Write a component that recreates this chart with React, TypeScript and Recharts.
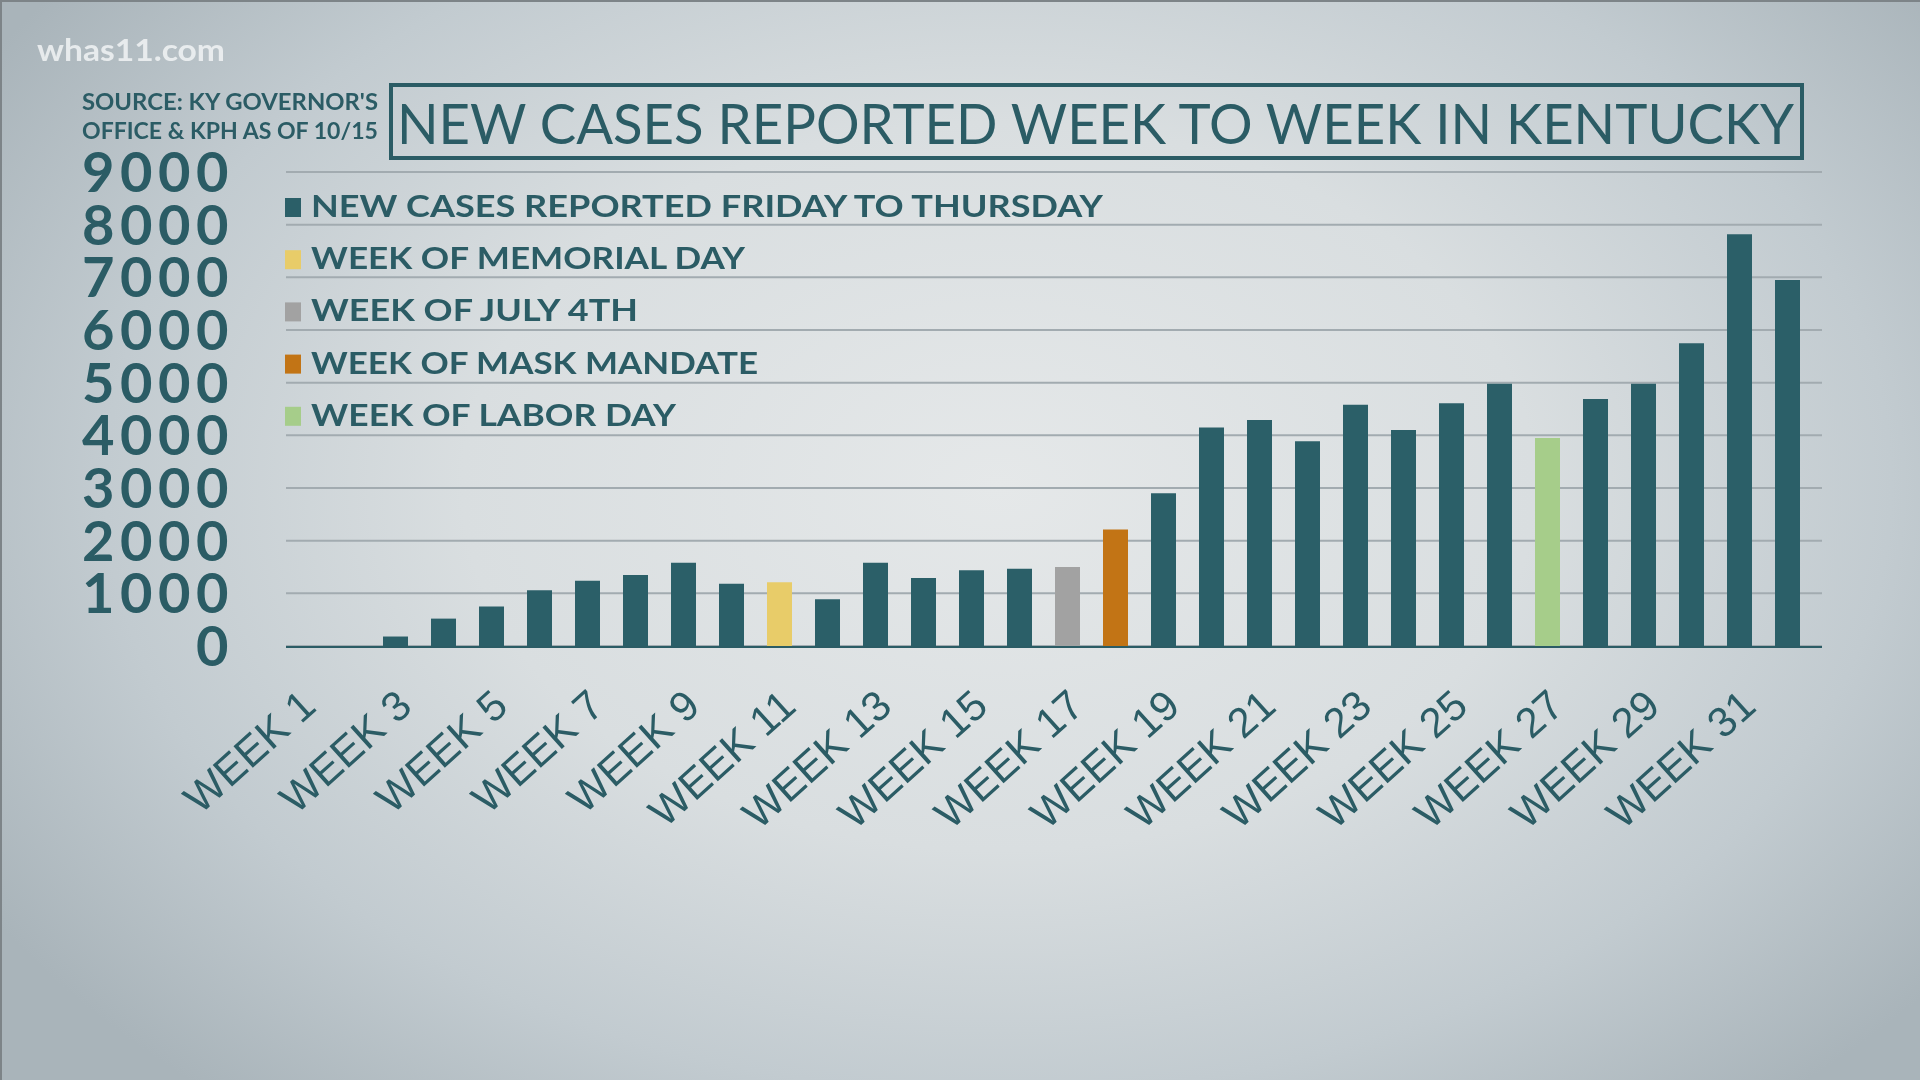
import { BarChart, Bar, Cell, XAxis, YAxis, CartesianGrid, Legend } from 'recharts'

// weekly new cases in Kentucky
const weeks = [
  'WEEK 1', 'WEEK 2', 'WEEK 3', 'WEEK 4', 'WEEK 5', 'WEEK 6', 'WEEK 7', 'WEEK 8',
  'WEEK 9', 'WEEK 10', 'WEEK 11', 'WEEK 12', 'WEEK 13', 'WEEK 14', 'WEEK 15', 'WEEK 16',
  'WEEK 17', 'WEEK 18', 'WEEK 19', 'WEEK 20', 'WEEK 21', 'WEEK 22', 'WEEK 23', 'WEEK 24',
  'WEEK 25', 'WEEK 26', 'WEEK 27', 'WEEK 28', 'WEEK 29', 'WEEK 30', 'WEEK 31', 'WEEK 32',
]
const newCases = [
  0, 0, 180, 520, 750, 1060, 1240, 1350,
  1580, 1180, 1210, 890, 1580, 1290, 1440, 1465,
  1500, 2210, 2900, 4150, 4290, 3890, 4580, 4100,
  4610, 4980, 3950, 4690, 4980, 5750, 7820, 6950,
]
const legendLabels = [
  'NEW CASES REPORTED FRIDAY TO THURSDAY',
  'WEEK OF MEMORIAL DAY',
  'WEEK OF JULY 4TH',
  'WEEK OF MASK MANDATE',
  'WEEK OF LABOR DAY',
]
// weeks that get the highlight colour of legend entries 1..4
const markedWeeks = ['WEEK 11', 'WEEK 17', 'WEEK 18', 'WEEK 27']
const yTicks = [0, 1000, 2000, 3000, 4000, 5000, 6000, 7000, 8000, 9000]

const titleText = 'NEW CASES REPORTED WEEK TO WEEK IN KENTUCKY'
const sourceLines = ["SOURCE: KY GOVERNOR'S", 'OFFICE & KPH AS OF 10/15']
const stationText = 'whas11.com'

const TEAL = '#2b5c65'
const COLORS = ['#2b5f68', '#e8cc69', '#a2a2a2', '#c27415', '#a6cd8a']
const LEGEND_WIDTHS = [792, 434, 327, 447, 365]

const chartData = weeks.map((week, i) => ({ week, cases: newCases[i] }))
const weekEdges = [...weeks.keys(), weeks.length]

function colorFor(week: string) {
  const k = markedWeeks.indexOf(week)
  return COLORS[k + 1]
}

function WeekTick({ x, y, payload }: any) {
  const ax = x + 8
  const ay = y + 63
  return (
    <text
      x={ax}
      y={ay}
      textAnchor="end"
      transform={`rotate(-42 ${ax} ${ay})`}
      fill={TEAL}
      fontFamily="'Liberation Sans', Arial, sans-serif"
      fontSize={42}
    >
      {payload.value}
    </text>
  )
}

function CountTick({ x, y, payload }: any) {
  return (
    <text
      x={x}
      y={y + 20}
      textAnchor="end"
      fill={TEAL}
      fontFamily="Lato, sans-serif"
      fontWeight={700}
      fontSize={56}
      letterSpacing={5.5}
    >
      {payload.value}
    </text>
  )
}

function KeyBox() {
  return (
    <svg width={900} height={260} style={{ overflow: 'visible' }}>
      {legendLabels.map((label, i) => (
        <g key={label}>
          <rect x={5} y={13 + i * 52.2} width={16} height={19} fill={COLORS[i]} />
          <text
            x={31}
            y={32 + i * 52.2}
            fill={TEAL}
            fontFamily="Lato, sans-serif"
            fontWeight={700}
            fontSize={31}
            textLength={LEGEND_WIDTHS[i]}
            lengthAdjust="spacingAndGlyphs"
          >
            {label}
          </text>
        </g>
      ))}
    </svg>
  )
}

export default function App() {
  return (
    <div
      style={{
        position: 'fixed',
        left: 0,
        top: 0,
        width: 1920,
        height: 1080,
        overflow: 'hidden',
        background:
          'radial-gradient(ellipse 62% 75% at 52% 45%, #e5e8e9 0%, #d9dee0 45%, #c2cbd0 75%, #a9b4ba 100%)',
        boxShadow: 'inset 2px 2px 0 #7d8488',
      }}
    >
      <BarChart
        width={1920}
        height={1080}
        data={chartData}
        margin={{ top: 172, right: 98, bottom: 432, left: 0 }}
        barGap={0}
        barCategoryGap={0}
      >
        <CartesianGrid xAxisId="cat" vertical={false} stroke="#a2abb0" strokeWidth={2} />
        <XAxis
          xAxisId="edges"
          type="number"
          domain={[0, weeks.length]}
          ticks={weekEdges}
          interval={0}
          allowDataOverflow
          tick={false}
          tickSize={15}
          height={1}
          axisLine={{ stroke: TEAL, strokeWidth: 2 }}
          tickLine={{ stroke: TEAL, strokeWidth: 2 }}
        />
        <XAxis
          xAxisId="cat"
          dataKey="week"
          interval={1}
          axisLine={false}
          tickLine={false}
          tickSize={0}
          tickMargin={0}
          height={1}
          tick={<WeekTick />}
        />
        <YAxis
          domain={[0, 9000]}
          ticks={yTicks}
          interval={0}
          width={286}
          axisLine={false}
          tickLine={false}
          tickSize={0}
          tickMargin={52}
          tick={<CountTick />}
        />
        <Legend
          layout="vertical"
          align="center"
          verticalAlign="middle"
          wrapperStyle={{ top: 185, left: 280, width: 900, height: 260 }}
          content={<KeyBox />}
        />
        <Bar xAxisId="cat" dataKey="cases" barSize={25} isAnimationActive={false}>
          {chartData.map(d => (
            <Cell key={d.week} fill={colorFor(d.week)} />
          ))}
        </Bar>
        <Bar xAxisId="cat" dataKey="pad" barSize={22} fill="none" isAnimationActive={false} />
      </BarChart>

      <svg
        width={1920}
        height={1080}
        style={{ position: 'absolute', left: 0, top: 0, pointerEvents: 'none' }}
      >
        <text
          x={37}
          y={61}
          fill="#f1f3f4"
          fillOpacity={0.85}
          fontFamily="Lato, sans-serif"
          fontWeight={700}
          fontSize={30}
          textLength={188}
          lengthAdjust="spacingAndGlyphs"
        >
          {stationText}
        </text>
        {sourceLines.map((line, i) => (
          <text
            key={line}
            x={82}
            y={110 + i * 29}
            fill={TEAL}
            fontFamily="Lato, sans-serif"
            fontWeight={700}
            fontSize={22}
            textLength={296}
            lengthAdjust="spacingAndGlyphs"
          >
            {line}
          </text>
        ))}
        <rect x={391} y={85} width={1411} height={73} fill="none" stroke={TEAL} strokeWidth={4} />
        <text
          x={397}
          y={144}
          fill={TEAL}
          fontFamily="Lato, sans-serif"
          fontWeight={400}
          fontSize={57}
          textLength={1397}
          lengthAdjust="spacingAndGlyphs"
        >
          {titleText}
        </text>
      </svg>
    </div>
  )
}
